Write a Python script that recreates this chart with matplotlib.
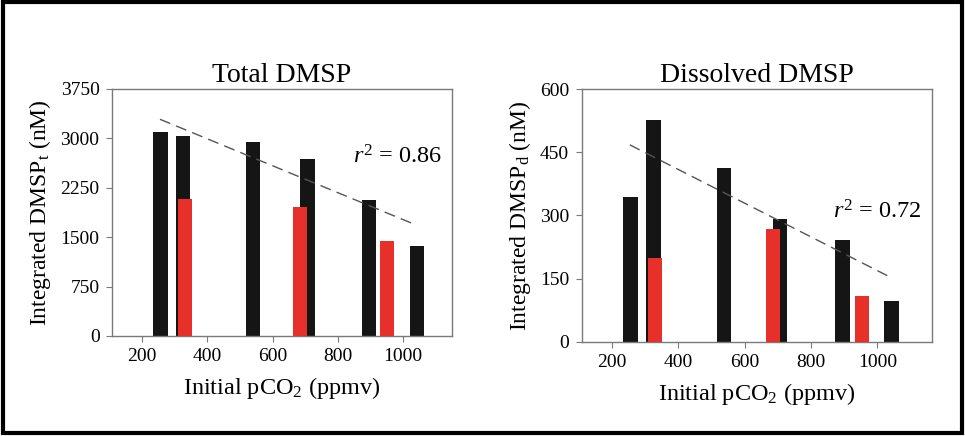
import matplotlib.pyplot as plt
from matplotlib.patches import Rectangle

plt.rcParams['font.family'] = ['Liberation Serif', 'DejaVu Serif']
plt.rcParams['mathtext.fontset'] = 'custom'
plt.rcParams['mathtext.rm'] = 'Liberation Serif'
plt.rcParams['mathtext.it'] = 'Liberation Serif:italic'

# total DMSP
tot_black_x = [257, 326, 541, 707, 895, 1042]
tot_black_y = [3100, 3030, 2950, 2690, 2065, 1365]
tot_red_x = [332, 684, 951]
tot_red_y = [2080, 1965, 1440]
tot_fit_x = [255, 1040]
tot_fit_y = [3290, 1685]

# dissolved DMSP
dis_black_x = [255, 324, 538, 706, 895, 1043]
dis_black_y = [345, 526, 413, 292, 242, 96]
dis_red_x = [329, 684, 953]
dis_red_y = [198, 268, 109]
dis_fit_x = [253, 1045]
dis_fit_y = [468, 151]

x_ticks = [200, 400, 600, 800, 1000]
spine_col = '#7a7a7a'
black = '#151515'
red = '#e8302a'

fig = plt.figure(figsize=(9.65, 4.36), dpi=100)
ax1 = fig.add_axes([0.1161, 0.2294, 0.3523, 0.5665])
ax2 = fig.add_axes([0.6028, 0.2163, 0.3630, 0.5789])


def style(ax, ylim, yticks, ylabel, title, r2, r2_xy):
    ax.set_xlim(108, 1150 if ax is ax1 else 1165)
    ax.set_ylim(*ylim)
    ax.set_yticks(yticks)
    ax.set_xticks(x_ticks)
    ax.tick_params(direction='out', length=4, width=0.8, color=spine_col,
                   labelsize=14, pad=5)
    for s in ax.spines.values():
        s.set_color(spine_col)
        s.set_linewidth(1.0)
    ax.set_xlabel('Initial pCO$_2$ (ppmv)', fontsize=17.5, labelpad=7)
    ax.set_ylabel(ylabel, fontsize=17, labelpad=5)
    ax.set_title(title, fontsize=20, pad=5)
    ax.text(r2_xy[0], r2_xy[1], r2, fontsize=17.5, va='center')


ax1.bar(tot_black_x, tot_black_y, width=44, color=black, zorder=2)
ax1.bar(tot_red_x, tot_red_y, width=42, color=red, zorder=3)
ax1.plot(tot_fit_x, tot_fit_y, ls=(0, (8, 4.5)), color='#555555', lw=1.0, zorder=4)
style(ax1, (0, 3750), [0, 750, 1500, 2250, 3000, 3750],
      'Integrated DMSP$_\\mathrm{t}$ (nM)', 'Total DMSP',
      '$\\mathit{r}^2$ = 0.86', (846, 2718))

ax2.bar(dis_black_x, dis_black_y, width=44, color=black, zorder=2)
ax2.bar(dis_red_x, dis_red_y, width=42, color=red, zorder=3)
ax2.plot(dis_fit_x, dis_fit_y, ls=(0, (8, 4.5)), color='#555555', lw=1.0, zorder=4)
style(ax2, (0, 600), [0, 150, 300, 450, 600],
      'Integrated DMSP$_\\mathrm{d}$ (nM)', 'Dissolved DMSP',
      '$\\mathit{r}^2$ = 0.72', (866, 308))

# outer frame
fig.patches.append(Rectangle((0.003, 0.007), 0.994, 0.988, transform=fig.transFigure,
                             fill=False, edgecolor='black', linewidth=3))

fig.savefig('out.png', dpi=100)
